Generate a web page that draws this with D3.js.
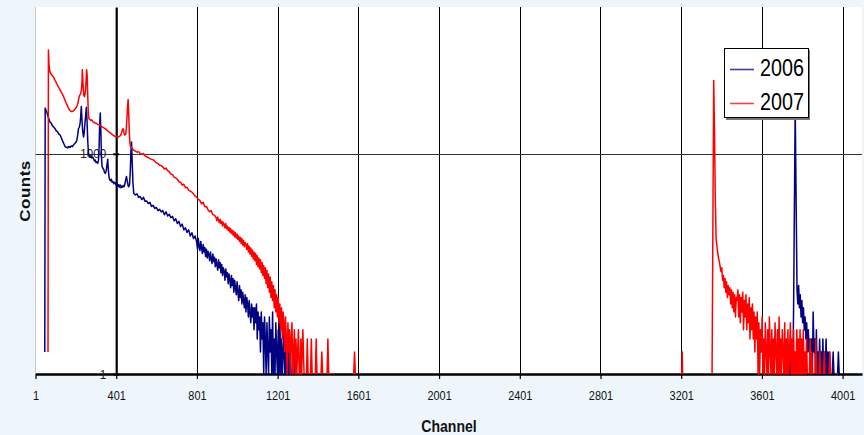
<!DOCTYPE html>
<html lang="en">
<head>
<meta charset="UTF-8">
<title>Counts vs Channel</title>
<script src="https://d3js.org/d3.v7.min.js"></script>
<style>
    body { margin: 0; background: #eef6fb; }
    svg { display: block; font-family: "Liberation Sans", Arial, sans-serif; }
    .grid line { stroke: #000; stroke-width: 1; }
    .series { fill: none; stroke-width: 1.5; stroke-linejoin: round; }
</style>
</head>
<body>
<svg id="chart" width="864" height="435"></svg>
<script>
    // x tick labels (channel) and y tick labels (counts, log)
    const xTicks = [1, 401, 801, 1201, 1601, 2001, 2401, 2801, 3201, 3601, 4001];
    const yTicks = [1, 1000];
    const seriesNames = ["2006", "2007"];
    const seriesColors = ["#000080", "#ff0000"];

    // [channel, counts]; 0 = empty channel (not drawn on the log axis)
    const counts2006 = [
        [46,0],[47,2],[49,4200],[53,3900],[57,3700],[62,3300],[67,3000],[73,2700],[79,2600],[85,2400],
        [92,2300],[98,2200],[104,2050],[110,2000],[117,1850],[123,1800],[129,1650],[135,1500],[141,1380],
        [148,1250],[154,1230],[160,1200],[166,1260],[172,1220],[178,1280],[184,1250],[190,1330],[196,1380],
        [202,1450],[206,1530],[210,1800],[214,2200],[218,2300],[222,2600],[225,3200],[228,4400],[231,3000],
        [235,2000],[239,1700],[242,1900],[245,2400],[249,3200],[253,4300],[256,3000],[260,1500],[264,960],
        [268,980],[272,900],[276,940],[280,880],[285,900],[289,850],[293,800],[297,820],[301,760],[305,780],
        [309,740],[313,800],[316,1200],[319,2500],[322,3600],[325,2000],[328,900],[331,670],[335,640],
        [339,610],[343,560],[347,540],[351,580],[355,700],[359,840],[362,600],[366,470],[369,440],[373,430],
        [377,450],[381,410],[385,420],[389,390],[393,410],[397,400],[401,370],[405,390],[409,360],[413,380],
        [417,350],[421,375],[425,345],[429,365],[433,350],[437,370],[441,360],[445,400],[449,460],[452,490],
        [456,420],[460,370],[463,355],[467,380],[471,600],[474,1100],[477,1450],[480,800],[484,400],[488,290],
        [496,275],[504,285],[512,255],[520,262],[528,238],[536,255],[544,225],[552,228],[560,210],[568,218],
        [576,192],[584,198],[592,180],[600,186],[608,168],[616,176],[624,162],[632,168],[640,148],[648,162],
        [656,142],[664,150],[672,135],[680,140],[688,122],[696,130],[704,112],[712,120],[720,102],[728,110],
        [736,92],[744,98],[752,85],[760,92],[768,76],[776,84],[784,70],[792,76],
        [800,62],[804,50],[808,70],[812,55],[816,48],[820,64],[824,52],[828,44],[832,58],[836,46],[840,53],
        [844,40],[848,50],[852,38],[856,47],[860,42],[864,35],[868,46],[872,37],[876,32],[880,43],[884,34],
        [888,39],[892,29],[896,37],[900,31],[904,26],[908,36],[912,28],[916,33],[920,24],[924,31],[928,22],
        [932,28],[936,25],[940,19],[944,27],[948,21],[952,24],[956,17],[960,23],[964,19],[968,15],[972,22],
        [976,16],[980,20],[984,13],[988,19],[992,15],[996,12],[1000,18],[1004,13],[1008,10],[1012,16],
        [1016,11],[1020,14],[1024,9],[1028,13],[1032,10],[1036,8],[1040,12],[1044,7],[1048,11],[1052,9],
        [1056,6],[1060,10],[1064,7],[1068,5],[1072,9],[1076,6],[1080,8],[1084,4],[1088,8],[1092,5],[1096,9],
        [1100,3],[1104,7],[1108,4],[1112,6],[1116,2],[1120,7],[1124,3],[1128,5],[1132,1],[1136,6],[1140,3],
        [1144,1],[1148,5],[1152,2],[1156,1],[1160,6],[1164,2],[1168,4],[1172,1],[1176,7],[1180,1],[1184,3],
        [1188,1],[1192,5],[1196,2],[1200,1],[1204,4],[1208,1],[1212,6],[1216,1],[1220,3],[1224,1],[1228,2],
        [1232,4],[1236,1],[1240,3],[1244,1],[1248,2],[1252,1],[1256,4],[1260,1],[1264,2],[1268,1],[1272,0],
        [1282,1],[1286,2],[1290,1],[1294,0],
        [3700,0],[3712,1],[3716,2],[3720,1],[3724,0],[3736,1],[3740,2],[3744,1],[3748,0],
        [3754,1],[3758,8],[3766,4200],[3775,14],[3779,9],[3783,16],[3787,8],[3791,12],[3795,6],[3799,10],
        [3803,5],[3807,8],[3811,4],[3815,6],[3819,3],[3823,5],[3827,2],[3831,4],[3835,2],[3839,3],[3843,1],
        [3847,3],[3851,1],[3855,7],[3859,2],[3863,3],[3867,1],[3871,4],[3875,1],[3879,2],[3883,1],[3887,3],
        [3891,1],[3895,2],[3899,1],[3903,3],[3907,1],[3911,2],[3915,1],[3919,3],[3923,1],[3927,2],[3931,1],
        [3935,2],[3939,1],[3943,0],[3950,1],[3954,2],[3958,1],[3962,0],[3976,1],[3980,2],[3984,1],[3988,0]
    ];

    const counts2007 = [
        [62,0],[63,2],[65,26000],[68,16000],[73,13000],[80,12000],[86,11500],[92,10800],[98,10000],
        [104,9300],[110,8600],[115,8100],[122,7500],[128,7000],[134,6500],[140,6000],[146,5500],[152,5000],
        [158,4600],[164,4200],[170,3950],[176,3800],[181,3750],[186,3800],[192,3900],[198,4100],[204,4300],
        [208,4600],[212,5000],[216,5800],[220,6300],[224,6500],[228,7200],[231,9000],[233,14000],[236,9500],
        [240,6300],[244,6000],[248,7000],[251,9000],[254,14000],[257,12000],[260,6000],[263,3500],[266,3000],
        [270,2950],[275,2850],[280,2900],[285,2750],[289,2700],[294,2650],[300,2600],[305,2580],[310,2500],
        [316,2480],[322,2450],[328,2350],[335,2300],[340,2250],[346,2200],[351,2150],[356,2100],[363,2000],
        [370,1950],[377,1880],[385,1800],[391,1750],[397,1700],[403,1720],[410,1680],[415,1720],[420,1750],
        [424,1800],[428,1950],[431,2100],[434,2200],[437,2150],[440,1900],[444,1800],[448,1850],[451,2200],
        [454,3000],[457,4300],[460,5500],[463,3500],[466,1900],[469,1400],[472,1250],[476,1230],[480,1180],
        [484,1160],[488,1120],[496,1090],[504,1050],[512,1070],[520,1000],[528,990],[536,1010],[544,940],
        [552,910],[560,890],[568,860],[576,840],[584,830],[592,790],[600,750],[608,740],[616,700],[624,690],
        [632,660],[640,620],[648,640],[656,590],[664,570],[672,530],[680,520],[688,480],[696,470],[704,450],
        [712,415],[720,410],[728,375],[736,385],[744,345],[752,350],[760,320],[768,310],[776,300],[784,285],
        [792,265],[800,255],[808,240],[816,230],[824,208],[832,218],[840,190],[848,192],[856,172],[864,162],
        [872,168],[880,148],[888,146],
        [896,135],[900,122],[904,138],[908,126],[912,115],[916,128],[920,112],[924,121],[928,104],[932,117],
        [936,109],[940,98],[944,112],[948,95],[952,103],[956,90],[960,99],[964,86],[968,96],[972,82],
        [976,91],[980,78],[984,88],[988,74],[992,84],[996,71],[1000,80],[1004,68],[1008,76],[1012,64],
        [1016,73],[1020,60],[1024,70],[1028,57],[1032,66],[1036,54],[1040,62],[1044,58],[1048,50],[1052,60],
        [1056,46],[1060,55],[1064,43],[1068,52],[1072,40],[1076,49],[1080,37],[1084,46],[1088,35],[1092,44],
        [1096,31],[1100,41],[1104,29],[1108,38],[1112,27],[1116,36],[1120,24],[1124,33],[1128,22],[1132,30],
        [1136,20],[1140,28],[1144,17],[1148,26],[1152,15],[1156,23],[1160,13],[1164,21],[1168,11],[1172,18],
        [1176,10],[1180,16],[1184,8],[1188,14],[1192,7],[1196,12],[1200,6],[1204,11],[1208,5],[1212,9],
        [1216,4],[1220,8],[1224,3],[1228,7],[1232,5],[1236,2],[1240,6],[1244,3],[1248,1],[1252,5],[1256,2],
        [1260,4],[1264,1],[1268,3],[1272,5],[1276,1],[1280,2],[1284,4],[1288,1],[1292,3],[1296,1],[1300,2],
        [1304,4],[1308,1],[1312,1],[1316,3],[1320,1],[1326,4],[1332,1],[1338,0],[1344,1],[1348,3],[1352,1],
        [1358,0],[1364,1],[1368,3],[1372,1],[1378,0],[1388,1],[1392,3],[1396,1],[1402,0],[1416,1],[1420,2],
        [1424,1],[1430,0],[1446,1],[1450,3],[1454,1],[1460,0],[1476,1],[1480,1],[1484,0],[1578,1],[1582,2],
        [1586,1],[1590,0],
        [3202,0],[3204,1],[3206,2],[3208,1],[3210,0],
        [3352,0],[3354,1],[3362,10000],[3366,2000],[3370,250],[3374,70],[3378,55],[3382,45],[3386,38],
        [3390,34],[3394,29],[3398,25],[3402,28],[3406,19],[3410,22],[3414,15],[3418,20],[3422,13],[3426,18],
        [3430,11],[3434,16],[3438,12],[3442,15],[3446,9],[3450,14],[3454,8],[3458,13],[3462,7],[3466,12],
        [3470,6],[3474,11],[3478,10],[3482,14],[3486,6],[3490,12],[3494,5],[3498,11],[3502,7],[3506,13],
        [3510,4],[3514,10],[3518,6],[3522,12],[3526,4],[3530,9],[3534,5],[3538,11],[3542,3],[3546,8],
        [3550,4],[3554,9],[3558,3],[3562,7],[3566,2],[3570,6],[3574,3],[3578,7],[3582,1],[3586,5],[3590,1],
        [3594,4],[3598,2],[3602,6],[3606,1],[3610,3],[3614,1],[3618,5],[3622,2],[3626,1],[3630,4],[3634,1],
        [3638,6],[3642,2],[3646,1],[3650,4],[3654,1],[3658,3],[3662,1],[3666,5],[3670,2],[3674,1],[3678,4],
        [3682,1],[3686,6],[3690,1],[3694,3],[3698,1],[3702,4],[3706,2],[3710,1],[3714,5],[3718,1],[3722,3],
        [3726,1],[3730,4],[3734,1],[3738,2],[3742,5],[3746,1],[3750,3],[3754,1],[3758,4],[3762,1],[3766,2],
        [3770,1],[3774,4],[3778,1],[3782,3],[3786,1],[3790,4],[3794,1],[3798,3],[3802,1],[3806,4],[3810,1],
        [3814,2],[3818,1],[3822,3],[3826,1],[3830,0],[3836,1],[3840,3],[3844,1],[3848,2],[3852,1],[3856,0],
        [3864,1],[3868,3],[3872,1],[3876,0],[3884,1],[3888,2],[3892,1],[3896,0],[3906,1],[3910,2],[3914,1],
        [3918,0],[3934,1],[3938,2],[3942,1],[3946,0],[3974,1],[3978,1],[3982,0]
    ];

    const svg = d3.select("#chart");

    // plot area
    const plot = { left: 35.5, right: 862, top: 7, bottom: 374 };

    const x = d3.scaleLinear().domain([1, 4097]).range([plot.left, plot.right]);
    const y = d3.scaleLog().domain([1, 100000]).range([plot.bottom, plot.top]);

    svg.append("rect")
        .attr("x", plot.left).attr("y", plot.top)
        .attr("width", plot.right - plot.left).attr("height", plot.bottom - plot.top)
        .attr("fill", "#fff");

    svg.append("line")
        .attr("x1", plot.left).attr("x2", plot.left)
        .attr("y1", plot.top).attr("y2", plot.bottom)
        .attr("stroke", "#c8c8c8");

    // vertical grid lines (401 is the value axis itself)
    svg.append("g").attr("class", "grid")
        .selectAll("line")
        .data(xTicks.filter(d => d > 401))
        .join("line")
        .attr("x1", d => Math.round(x(d)) + 0.5).attr("x2", d => Math.round(x(d)) + 0.5)
        .attr("y1", plot.top).attr("y2", plot.bottom);

    // horizontal grid line at 1000
    svg.append("line")
        .attr("x1", plot.left).attr("x2", plot.right)
        .attr("y1", Math.round(y(1000)) + 0.5).attr("y2", Math.round(y(1000)) + 0.5)
        .attr("stroke", "#333");

    // x axis
    const xAxis = svg.append("g")
        .attr("transform", `translate(0,${plot.bottom})`)
        .call(d3.axisBottom(x).tickValues(xTicks).tickSize(5).tickSizeOuter(0).tickPadding(12)
            .tickFormat(d3.format("d")));
    xAxis.select(".domain").attr("stroke", "#000").attr("stroke-width", 2.5);
    xAxis.selectAll(".tick line").attr("stroke", "#000").attr("stroke-width", 1.2);
    xAxis.selectAll(".tick text")
        .attr("font-size", 13).attr("fill", "#111")
        .attr("transform", "scale(0.84,1)");

    // y axis crossing at channel 401
    const yAxis = svg.append("g")
        .attr("transform", `translate(${x(401)},0)`)
        .call(d3.axisLeft(y).tickValues(yTicks).tickSize(3).tickSizeOuter(0).tickPadding(7)
            .tickFormat(d3.format("d")));
    yAxis.select(".domain").attr("stroke", "#000").attr("stroke-width", 2.2);
    yAxis.selectAll(".tick line").attr("x2", 3).attr("x1", -3).attr("stroke", "#000").attr("stroke-width", 2);
    yAxis.selectAll(".tick text")
        .attr("font-size", 13).attr("fill", "#222")
        .attr("transform", "scale(0.9,1)")
        .attr("x", -11);

    // series
    const line = d3.line()
        .defined(d => d[1] > 0)
        .x(d => x(d[0]))
        .y(d => y(d[1]));

    [counts2006, counts2007].forEach((data, i) => {
        svg.append("path")
            .datum(data)
            .attr("class", "series")
            .attr("stroke", seriesColors[i])
            .attr("d", line);
    });

    // axis titles
    svg.append("text")
        .attr("transform", "translate(449,432) scale(0.88,1)")
        .attr("text-anchor", "middle")
        .attr("font-size", 16).attr("font-weight", "bold").attr("fill", "#111")
        .text("Channel");

    svg.append("text")
        .attr("transform", "translate(30,191) rotate(-90) scale(1,0.88)")
        .attr("text-anchor", "middle")
        .attr("font-size", 17).attr("font-weight", "bold").attr("fill", "#111")
        .attr("letter-spacing", 0.5)
        .text("Counts");

    // legend
    const legend = svg.append("g").attr("transform", "translate(724,48)");
    legend.append("rect")
        .attr("x", 2).attr("y", 2).attr("width", 84).attr("height", 70)
        .attr("fill", "#777");
    legend.append("rect")
        .attr("x", 0.5).attr("y", 0.5).attr("width", 84).attr("height", 69)
        .attr("fill", "#fff").attr("stroke", "#000");
    seriesNames.forEach((name, i) => {
        const ly = 21.5 + i * 34;
        legend.append("line")
            .attr("x1", 6).attr("x2", 30).attr("y1", ly).attr("y2", ly)
            .attr("stroke", seriesColors[i]).attr("stroke-width", 1.6).attr("opacity", 0.75);
        legend.append("text")
            .attr("transform", `translate(36,${28 + i * 34}) scale(0.86,1)`)
            .attr("font-size", 23).attr("fill", "#000")
            .text(name);
    });
</script>
</body>
</html>
